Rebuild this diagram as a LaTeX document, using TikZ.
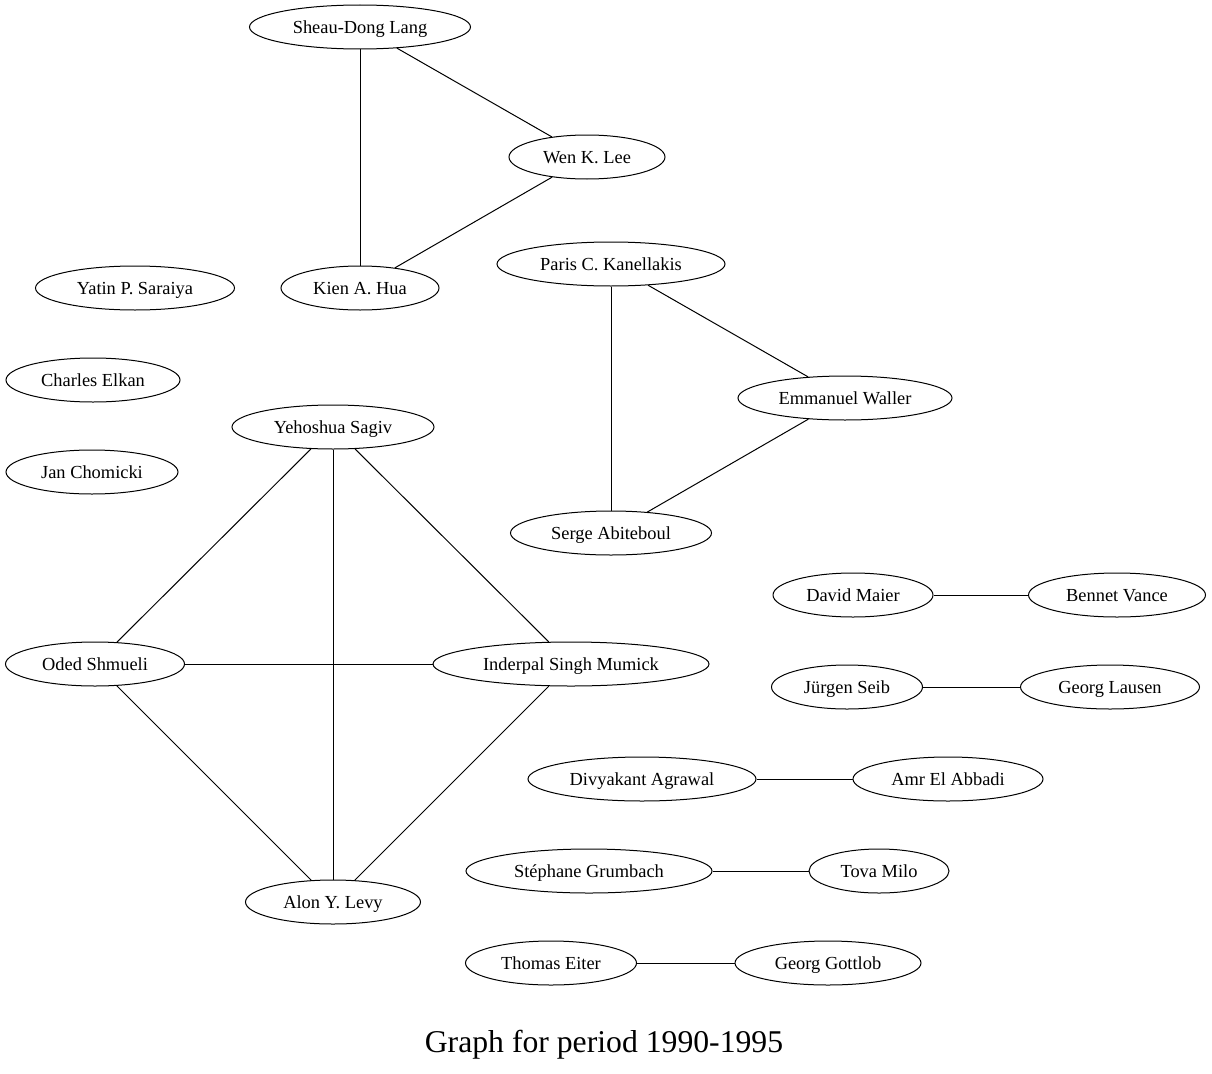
\documentclass[tikz,border=0pt]{standalone}
\usepackage{fontspec}
\setmainfont{Liberation Serif}
\usetikzlibrary{shapes.geometric}
\begin{document}
\begin{tikzpicture}[x=1pt,y=-1pt,
  person/.style={draw,ellipse,line width=1pt,inner sep=0pt,minimum height=44pt,text height=15.5pt,text depth=2.5pt,font=\fontsize{18.4}{20}\selectfont},
  link/.style={line width=1pt}]
\useasboundingbox (0,0) rectangle (1212,1073);
\node[person,minimum width=221pt] (sdl) at (360,27) {Sheau-Dong Lang};
\node[person,minimum width=156pt] (wkl) at (587,157) {Wen K. Lee};
\node[person,minimum width=158pt] (kah) at (360,288) {Kien A. Hua};
\node[person,minimum width=199pt] (yps) at (135,288) {Yatin P. Saraiya};
\node[person,minimum width=228pt] (pck) at (611,264) {Paris C. Kanellakis};
\node[person,minimum width=174pt] (ce) at (93,380) {Charles Elkan};
\node[person,minimum width=214pt] (ew) at (845,398) {Emmanuel Waller};
\node[person,minimum width=202pt] (ys) at (333,427) {Yehoshua Sagiv};
\node[person,minimum width=172pt] (jc) at (92,472) {Jan Chomicki};
\node[person,minimum width=201pt] (sa) at (611,533) {Serge Abiteboul};
\node[person,minimum width=160pt] (dm) at (853,595) {David Maier};
\node[person,minimum width=177pt] (bv) at (1117,595) {Bennet Vance};
\node[person,minimum width=179pt] (os) at (95,664) {Oded Shmueli};
\node[person,minimum width=276pt] (ism) at (571,664) {Inderpal Singh Mumick};
\node[person,minimum width=151pt] (js) at (847,687) {Jürgen Seib};
\node[person,minimum width=179pt] (gl) at (1110,687) {Georg Lausen};
\node[person,minimum width=228pt] (da) at (642,779) {Divyakant Agrawal};
\node[person,minimum width=190pt] (aea) at (948,779) {Amr El Abbadi};
\node[person,minimum width=246pt] (sg) at (589,871) {Stéphane Grumbach};
\node[person,minimum width=140pt] (tm) at (879,871) {Tova Milo};
\node[person,minimum width=175pt] (ayl) at (333,902) {Alon Y. Levy};
\node[person,minimum width=171pt] (te) at (551,963) {Thomas Eiter};
\node[person,minimum width=186pt] (gg) at (828,963) {Georg Gottlob};
\node[font=\fontsize{31.7}{34}\selectfont] (title) at (604,1045) {Graph for period 1990-1995};
\draw[link] (sdl) -- (wkl);
\draw[link] (sdl) -- (kah);
\draw[link] (wkl) -- (kah);
\draw[link] (pck) -- (ew);
\draw[link] (pck) -- (sa);
\draw[link] (ew) -- (sa);
\draw[link] (ys) -- (os);
\draw[link] (ys) -- (ayl);
\draw[link] (ys) -- (ism);
\draw[link] (os) -- (ism);
\draw[link] (os) -- (ayl);
\draw[link] (ism) -- (ayl);
\draw[link] (dm) -- (bv);
\draw[link] (js) -- (gl);
\draw[link] (da) -- (aea);
\draw[link] (sg) -- (tm);
\draw[link] (te) -- (gg);
\end{tikzpicture}
\end{document}
